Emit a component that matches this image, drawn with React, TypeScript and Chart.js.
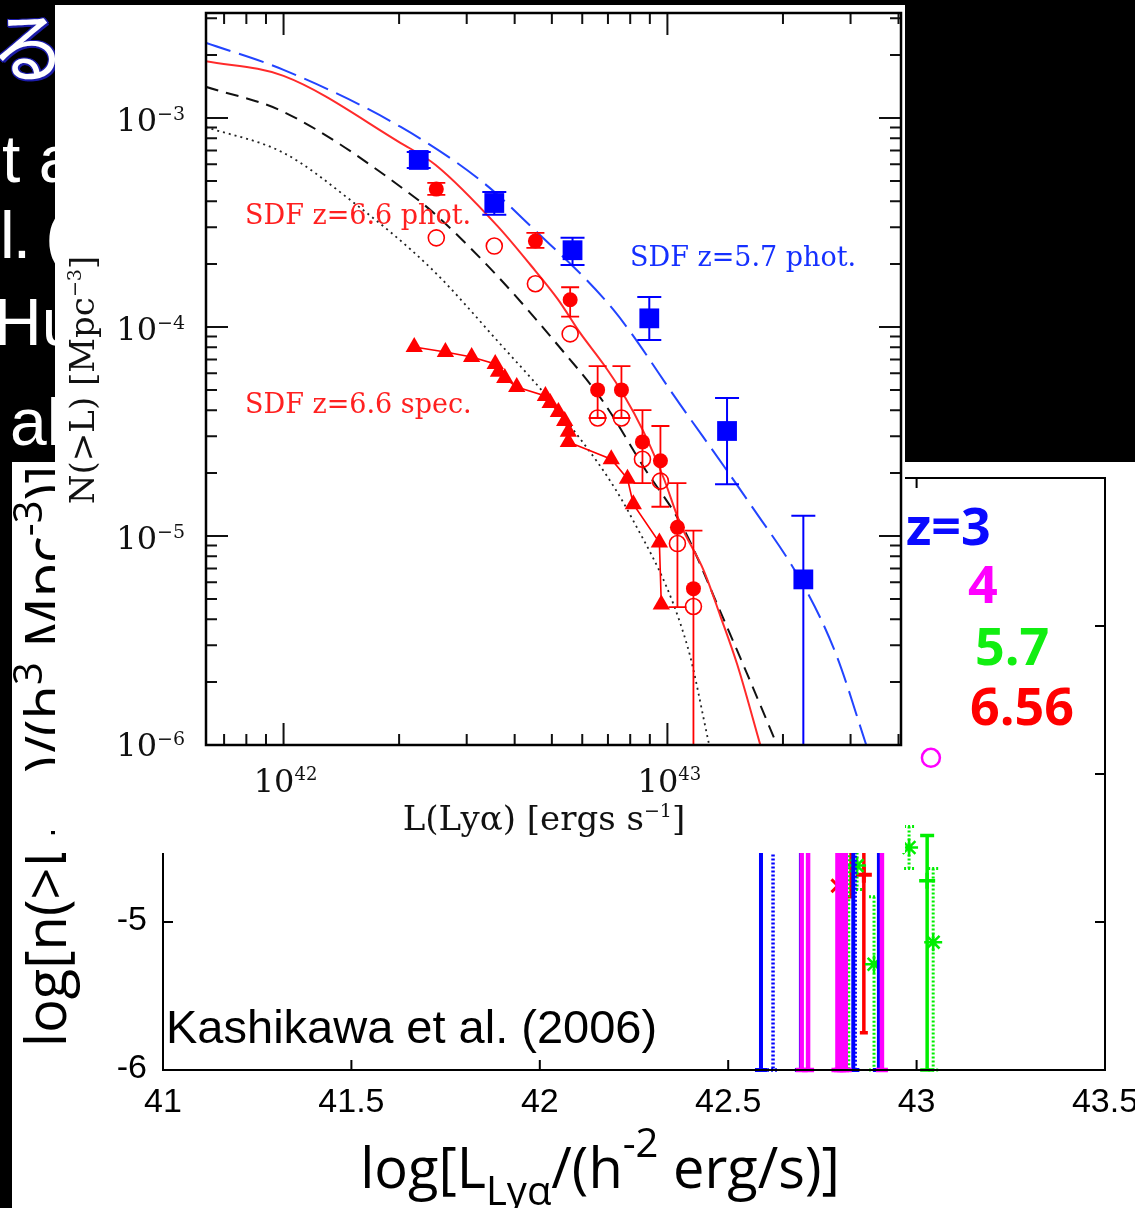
import React, { useEffect, useRef } from 'react';
import { Chart, registerables } from 'chart.js';

Chart.register(...registerables);

// ---------- Inset: SDF cumulative Lyα luminosity functions (log-log) ----------
// z=5.7 photometric sample (filled squares)
const phot57L = [2.25e42, 3.54e42, 5.66e42, 8.97e42, 1.43e43, 2.26e43];
const phot57N = [6.3e-4, 3.92e-4, 2.33e-4, 1.1e-4, 3.18e-5, 6.2e-6];
const phot57Hi = [6.87e-4, 4.43e-4, 2.67e-4, 1.39e-4, 4.57e-5, 1.25e-5];
const phot57Lo = [5.77e-4, 3.44e-4, 1.98e-4, 8.67e-5, 1.77e-5, 0];

// z=6.6 photometric sample: corrected (filled circles) and raw (open circles)
const phot66L = [2.5e42, 3.54e42, 4.53e42, 5.58e42, 6.58e42, 7.59e42, 8.61e42, 9.59e42, 1.062e43, 1.169e43];
const phot66N = [4.57e-4, 4.0e-4, 2.58e-4, 1.35e-4, 5.0e-5, 5.0e-5, 2.82e-5, 2.29e-5, 1.1e-5, 5.6e-6];
const phot66Hi = [4.89e-4, 4.3e-4, 2.82e-4, 1.55e-4, 6.5e-5, 6.5e-5, 4.0e-5, 3.36e-5, 1.79e-5, 1.06e-5];
const phot66Lo = [4.29e-4, 3.85e-4, 2.39e-4, 1.12e-4, 3.67e-5, 3.67e-5, 1.79e-5, 1.38e-5, 4.57e-6, 0];
const phot66RawN = [2.67e-4, 2.44e-4, 1.61e-4, 9.27e-5, 3.67e-5, 3.67e-5, 2.33e-5, 1.83e-5, 9.2e-6, 4.6e-6];

// z=6.6 spectroscopic sample (triangles, joined)
const spec66L = [2.19e42, 2.64e42, 3.09e42, 3.56e42, 3.63e42, 3.77e42, 4.05e42, 4.81e42, 4.95e42, 5.2e42, 5.4e42, 5.52e42, 5.52e42, 7.14e42, 7.87e42, 8.15e42, 9.53e42, 9.64e42];
const spec66N = [8.02e-5, 7.59e-5, 7.18e-5, 6.65e-5, 6.1e-5, 5.7e-5, 5.16e-5, 4.68e-5, 4.33e-5, 3.92e-5, 3.55e-5, 3.15e-5, 2.82e-5, 2.33e-5, 1.88e-5, 1.42e-5, 9.3e-6, 4.7e-6];

// Model curves
const model57L = [6.27e41, 1.0e42, 2.02e42, 3.3e42, 4.4e42, 7.23e42, 1.081e43, 1.614e43, 2.275e43, 2.754e43, 3.296e43];
const model57N = [2.29e-3, 1.7e-3, 9.06e-4, 4.94e-4, 3.04e-4, 1.21e-4, 4.24e-5, 1.49e-5, 5.7e-6, 2.7e-6, 1.0e-6];
const model66L = [6.27e41, 1.0e42, 2.02e42, 2.49e42, 3.61e42, 4.4e42, 5.18e42, 5.93e42, 6.81e42, 7.67e42, 8.67e42, 9.77e42, 1.081e43, 1.242e43, 1.374e43, 1.521e43, 1.746e43];
const model66N = [1.87e-3, 1.59e-3, 7.59e-4, 5.96e-4, 3.04e-4, 1.98e-4, 1.36e-4, 9.35e-5, 6.65e-5, 4.78e-5, 3.15e-5, 1.9e-5, 1.14e-5, 6.87e-6, 4.14e-6, 2.42e-6, 1.0e-6];
const modelDashL = [6.27e41, 1.0e42, 2.19e42, 2.56e42, 3.61e42, 5.18e42, 6.81e42, 8.67e42, 1.1e43, 1.4e43, 1.61e43, 1.93e43];
const modelDashN = [1.41e-3, 1.07e-3, 4.19e-4, 3.29e-4, 1.75e-4, 8.2e-5, 4.38e-5, 2.14e-5, 1.09e-5, 4.01e-6, 2.21e-6, 1.0e-6];
const modelDotL = [6.27e41, 1.0e42, 1.49e42, 2.42e42, 3.61e42, 5.36e42, 8.02e42, 1.127e43, 1.285e43];
const modelDotN = [9.06e-4, 6.81e-4, 4.06e-4, 1.91e-4, 8.57e-5, 3.71e-5, 1.25e-5, 2.98e-6, 1.0e-6];

// Inset axes
const insetXMajor = [1e42, 1e43];
const insetXExp = ['42', '43'];
const insetXDecades = [1e41, 1e42, 1e43];
const insetYMajor = [1e-6, 1e-5, 1e-4, 1e-3];
const insetYExp = ['−6', '−5', '−4', '−3'];
const insetYDecades = [1e-6, 1e-5, 1e-4, 1e-3];
const minorMultipliers = [2, 3, 4, 5, 6, 7, 8, 9];

// ---------- Lower panel: Kashikawa et al. (2006), log units ----------
const lowXTicks = [41, 41.5, 42, 42.5, 43, 43.5];
const lowXLabels = ['41', '41.5', '42', '42.5', '43', '43.5'];
const lowYTicks = [-6, -5, -4, -3, -2];
const lowYLabels = ['-6', '-5', '-4', '-3', '-2'];

const z3L = [42.587, 42.693, 42.832, 42.9];
const z3N = [-3.3, -3.6, -3.9, -4.15];
const z3Hi = [-3.2, -3.5, -3.8, -4.05];
const z3Lo = [-6, -6, -6, -6];
const z3DotL = [42.619, 42.837];
const z3DotN = [-3.4, -3.95];
const z3DotHi = [-3.3, -3.85];
const z3DotLo = [-6, -6];

const z4L = [42.695, 42.712, 42.79, 42.797, 42.805, 42.812, 42.908];
const z4N = [-3.7, -3.8, -3.95, -4.0, -4.05, -4.1, -4.3];
const z4Hi = [-3.6, -3.7, -3.85, -3.9, -3.95, -4.0, -4.2];
const z4Lo = [-6, -6, -6, -6, -6, -6, -6];
const z4OpenL = [43.038];
const z4OpenN = [-3.891];

const z57L = [43.028];
const z57N = [-4.721];
const z57Hi = [-4.415];
const z57Lo = [-6];
const z57StarL = [42.82, 42.842, 42.887, 42.98, 43.044];
const z57StarN = [-4.0, -4.619, -5.286, -4.497, -5.136];
const z57StarHi = [-3.9, -4.45, -4.83, -4.354, -4.639];
const z57StarLo = [-6, -4.78, -6, -4.639, -6];

const z656L = [42.826, 42.86];
const z656N = [-4.3, -4.68];
const z656Hi = [-4.1, -4.2];
const z656Lo = [-4.83, -5.748];
const z656XL = [42.791];
const z656XN = [-4.755];

const redshiftLabels = ['z=3', '4', '5.7', '6.56'];
const redshiftColors = ['#0a0aff', '#ff00ff', '#11ee11', '#ff0000'];

// ---------- helpers ----------
const pts = (xs: number[], ys: number[]) => xs.map((x, i) => ({ x, y: ys[i] }));

type Part = { t: string; font: string; dy?: number };

function drawRich(ctx: CanvasRenderingContext2D, parts: Part[], x: number, y: number, align: 'left' | 'center' | 'right') {
  let w = 0;
  for (const p of parts) {
    ctx.font = p.font;
    w += ctx.measureText(p.t).width;
  }
  let cx = align === 'left' ? x : align === 'center' ? x - w / 2 : x - w;
  ctx.textAlign = 'left';
  ctx.textBaseline = 'alphabetic';
  for (const p of parts) {
    ctx.font = p.font;
    ctx.fillText(p.t, cx, y + (p.dy || 0));
    cx += ctx.measureText(p.t).width;
  }
}

type ErrBars = { hi: number[]; lo: number[]; color: string; width: number; cap: number; dash?: number[]; clip?: boolean };

// Vertical error bars, drawn just before each dataset's own markers
const errorBarPlugin = {
  id: 'errorBars',
  beforeDatasetDraw(chart: any, args: any) {
    const ds = chart.data.datasets[args.index];
    const eb: ErrBars | undefined = ds.errorBars;
    if (!eb) return;
    const { ctx, chartArea: a, scales } = chart;
    const xs = scales.x;
    const ys = scales.y;
    ctx.save();
    if (eb.clip) {
      ctx.beginPath();
      ctx.rect(a.left, a.top, a.right - a.left, a.bottom - a.top);
      ctx.clip();
    }
    ctx.strokeStyle = eb.color;
    ctx.lineWidth = eb.width;
    ctx.setLineDash(eb.dash || []);
    ds.data.forEach((p: any, i: number) => {
      const px = xs.getPixelForValue(p.x);
      const yHi = ys.getPixelForValue(eb.hi[i]);
      const open = eb.lo[i] === 0;
      const yLo = open ? a.bottom + 20 : ys.getPixelForValue(eb.lo[i]);
      ctx.beginPath();
      ctx.moveTo(px, yHi);
      ctx.lineTo(px, yLo);
      ctx.moveTo(px - eb.cap, yHi);
      ctx.lineTo(px + eb.cap, yHi);
      if (!open) {
        ctx.moveTo(px - eb.cap, yLo);
        ctx.lineTo(px + eb.cap, yLo);
      }
      ctx.stroke();
    });
    ctx.restore();
  },
};

const SERIF = '"DejaVu Serif", "Liberation Serif", serif';

// Inset frame: mirrored inward ticks, 10^n labels, titles and sample labels
const insetAxesPlugin = {
  id: 'insetAxes',
  afterDatasetsDraw(chart: any) {
    const { ctx, chartArea: a, scales } = chart;
    const x = scales.x;
    const y = scales.y;
    ctx.save();
    ctx.strokeStyle = '#111';
    ctx.lineWidth = 2;
    ctx.beginPath();
    const xTick = (v: number, len: number) => {
      const px = x.getPixelForValue(v);
      ctx.moveTo(px, a.bottom);
      ctx.lineTo(px, a.bottom - len);
      ctx.moveTo(px, a.top);
      ctx.lineTo(px, a.top + len);
    };
    const yTick = (v: number, len: number) => {
      const py = y.getPixelForValue(v);
      ctx.moveTo(a.left, py);
      ctx.lineTo(a.left + len, py);
      ctx.moveTo(a.right, py);
      ctx.lineTo(a.right - len, py);
    };
    insetXDecades.forEach((d) =>
      minorMultipliers.forEach((m) => {
        const v = d * m;
        if (v > x.min && v < x.max) xTick(v, 11);
      })
    );
    insetXMajor.forEach((v) => xTick(v, 22));
    insetYDecades.forEach((d) =>
      minorMultipliers.forEach((m) => {
        const v = d * m;
        if (v > y.min && v < y.max) yTick(v, 11);
      })
    );
    insetYMajor.forEach((v) => yTick(v, 22));
    ctx.stroke();

    ctx.lineWidth = 2.5;
    ctx.strokeStyle = '#000';
    ctx.strokeRect(a.left, a.top, a.right - a.left, a.bottom - a.top);

    ctx.fillStyle = '#111';
    insetXMajor.forEach((v, i) => {
      drawRich(
        ctx,
        [
          { t: '10', font: `32px ${SERIF}` },
          { t: insetXExp[i], font: `18px ${SERIF}`, dy: -12 },
        ],
        x.getPixelForValue(v) + 2,
        a.bottom + 47,
        'center'
      );
    });
    insetYMajor.forEach((v, i) => {
      drawRich(
        ctx,
        [
          { t: '10', font: `32px ${SERIF}` },
          { t: insetYExp[i], font: `19px ${SERIF}`, dy: -11 },
        ],
        a.left - 21,
        y.getPixelForValue(v) + (i === 0 ? 11 : 13),
        'right'
      );
    });

    // axis titles
    drawRich(
      ctx,
      [
        { t: 'L(Lyα) [ergs s', font: `34px ${SERIF}` },
        { t: '−1', font: `19px ${SERIF}`, dy: -13 },
        { t: ']', font: `34px ${SERIF}` },
      ],
      a.left + 338,
      a.bottom + 85,
      'center'
    );
    ctx.save();
    ctx.translate(39, a.top + 367);
    ctx.rotate(-Math.PI / 2);
    drawRich(
      ctx,
      [
        { t: 'N(>L) [Mpc', font: `34px ${SERIF}` },
        { t: '−3', font: `19px ${SERIF}`, dy: -13 },
        { t: ']', font: `34px ${SERIF}` },
      ],
      0,
      0,
      'center'
    );
    ctx.restore();

    // sample labels
    ctx.font = `27px ${SERIF}`;
    ctx.textAlign = 'left';
    ctx.textBaseline = 'alphabetic';
    ctx.fillStyle = '#ff2020';
    ctx.fillText('SDF z=6.6 phot.', a.left + 39, a.top + 211);
    ctx.fillText('SDF z=6.6 spec.', a.left + 39, a.top + 400);
    ctx.fillStyle = '#1530ff';
    ctx.fillText('SDF z=5.7 phot.', a.left + 424, a.top + 253);
    ctx.restore();
  },
};

const SANS = '"Open Sans", "Noto Sans", "DejaVu Sans", sans-serif';
const ARIAL = '"Liberation Sans", Arial, sans-serif';

// Lower panel frame, ticks, labels, titles and redshift key
const lowerAxesPlugin = {
  id: 'lowerAxes',
  afterDatasetsDraw(chart: any) {
    const { ctx, chartArea: a, scales } = chart;
    const x = scales.x;
    const y = scales.y;
    ctx.save();
    ctx.strokeStyle = '#000';
    ctx.lineWidth = 2;
    ctx.strokeRect(a.left, a.top, a.right - a.left, a.bottom - a.top);
    ctx.beginPath();
    lowXTicks.forEach((v) => {
      const px = x.getPixelForValue(v);
      ctx.moveTo(px, a.bottom);
      ctx.lineTo(px, a.bottom - 10);
      ctx.moveTo(px, a.top);
      ctx.lineTo(px, a.top + 10);
    });
    lowYTicks.forEach((v) => {
      const py = y.getPixelForValue(v);
      ctx.moveTo(a.left, py);
      ctx.lineTo(a.left + 10, py);
      ctx.moveTo(a.right, py);
      ctx.lineTo(a.right - 10, py);
    });
    ctx.stroke();

    ctx.fillStyle = '#000';
    ctx.font = `34px ${ARIAL}`;
    ctx.textAlign = 'center';
    ctx.textBaseline = 'alphabetic';
    lowXTicks.forEach((v, i) => ctx.fillText(lowXLabels[i], x.getPixelForValue(v), a.bottom + 42));
    ctx.textAlign = 'right';
    ctx.textBaseline = 'middle';
    lowYTicks.forEach((v, i) => ctx.fillText(lowYLabels[i], a.left - 16, y.getPixelForValue(v) - 1));

    // x title
    drawRich(
      ctx,
      [
        { t: 'log[L', font: `56px ${SANS}` },
        { t: 'Lyα', font: `40px ${SANS}`, dy: 17 },
        { t: '/(h', font: `56px ${SANS}` },
        { t: '-2', font: `40px ${SANS}`, dy: -31 },
        { t: ' erg/s)]', font: `56px ${SANS}` },
      ],
      588,
      a.bottom + 118,
      'center'
    );
    // y title
    ctx.save();
    ctx.translate(54, a.bottom - 23);
    ctx.rotate(-Math.PI / 2);
    drawRich(
      ctx,
      [
        { t: 'log[n(>L', font: `56px ${SANS}` },
        { t: 'Lyα', font: `40px ${SANS}`, dy: 14 },
        { t: ')/(h', font: `56px ${SANS}` },
        { t: '3', font: `40px ${SANS}`, dy: -24 },
        { t: ' Mpc', font: `56px ${SANS}` },
        { t: '-3', font: `40px ${SANS}`, dy: -24 },
        { t: ')]', font: `56px ${SANS}` },
      ],
      0,
      0,
      'left'
    );
    ctx.restore();

    // reference
    ctx.font = `47px ${ARIAL}`;
    ctx.textAlign = 'left';
    ctx.textBaseline = 'alphabetic';
    ctx.fillStyle = '#000';
    ctx.fillText('Kashikawa et al. (2006)', a.left + 3, a.bottom - 27);

    // redshift key
    ctx.font = `bold 52px ${SANS}`;
    const keyX = [a.right - 199, a.right - 137, a.right - 130, a.right - 135];
    const keyY = [a.top + 67, a.top + 125, a.top + 187, a.top + 247];
    redshiftLabels.forEach((s, i) => {
      ctx.fillStyle = redshiftColors[i];
      ctx.fillText(s, keyX[i], keyY[i]);
    });
    ctx.restore();
  },
};

function insetConfig(): any {
  const blue = '#0000ff';
  const red = '#ff0000';
  const curve = { showLine: true, pointRadius: 0, cubicInterpolationMode: 'monotone' };
  return {
    type: 'scatter',
    data: {
      datasets: [
        {
          data: pts(phot57L, phot57N),
          pointStyle: 'rect',
          pointRadius: 14,
          pointBackgroundColor: blue,
          pointBorderWidth: 0,
          errorBars: { hi: phot57Hi, lo: phot57Lo, color: blue, width: 2, cap: 12, clip: true },
        },
        {
          data: pts(phot66L, phot66N),
          pointStyle: 'circle',
          pointRadius: 7.5,
          pointBackgroundColor: red,
          pointBorderWidth: 0,
          errorBars: { hi: phot66Hi, lo: phot66Lo, color: red, width: 1.8, cap: 9, clip: true },
        },
        {
          data: pts(phot66L, phot66RawN),
          pointStyle: 'circle',
          pointRadius: 8,
          pointBackgroundColor: 'rgba(0,0,0,0)',
          pointBorderColor: red,
          pointBorderWidth: 1.6,
        },
        {
          data: pts(spec66L, spec66N),
          showLine: true,
          borderColor: red,
          borderWidth: 1.6,
          pointStyle: 'triangle',
          pointRadius: 10,
          pointBackgroundColor: red,
          pointBorderWidth: 0,
        },
        {
          ...curve,
          data: pts(model57L, model57N),
          borderColor: '#2244ff',
          borderWidth: 2,
          borderDash: [26, 9],
        },
        {
          ...curve,
          data: pts(model66L, model66N),
          borderColor: '#ff2a2a',
          borderWidth: 2,
        },
        {
          ...curve,
          data: pts(modelDashL, modelDashN),
          borderColor: '#111',
          borderWidth: 2,
          borderDash: [13, 8],
        },
        {
          ...curve,
          data: pts(modelDotL, modelDotN),
          borderColor: '#222',
          borderWidth: 1.8,
          borderDash: [2, 4],
        },
      ],
    },
    options: {
      animation: false,
      responsive: false,
      maintainAspectRatio: false,
      events: [],
      layout: { autoPadding: false, padding: { left: 151, right: 4, top: 8, bottom: 108 } },
      scales: {
        x: { type: 'logarithmic', min: 6.28e41, max: 4.06e43, display: false },
        y: { type: 'logarithmic', min: 1e-6, max: 3.18e-3, display: false },
      },
      plugins: { legend: { display: false }, tooltip: { enabled: false } },
    },
    plugins: [errorBarPlugin, insetAxesPlugin],
  };
}

function lowerConfig(): any {
  const blue = '#0000ff';
  const magenta = '#ff00ff';
  const green = '#00ee00';
  const red = '#ff0000';
  return {
    type: 'scatter',
    data: {
      datasets: [
        {
          data: pts(z4OpenL, z4OpenN),
          pointStyle: 'circle',
          pointRadius: 9,
          pointBackgroundColor: 'rgba(0,0,0,0)',
          pointBorderColor: magenta,
          pointBorderWidth: 2.5,
        },
        {
          data: pts(z4L, z4N),
          pointRadius: 5,
          pointBackgroundColor: magenta,
          pointBorderWidth: 0,
          errorBars: { hi: z4Hi, lo: z4Lo, color: magenta, width: 4.5, cap: 6 },
        },
        {
          data: pts(z3L, z3N),
          pointRadius: 5,
          pointBackgroundColor: blue,
          pointBorderWidth: 0,
          errorBars: { hi: z3Hi, lo: z3Lo, color: blue, width: 4, cap: 6 },
        },
        {
          data: pts(z3DotL, z3DotN),
          pointRadius: 5,
          pointBackgroundColor: blue,
          pointBorderWidth: 0,
          errorBars: { hi: z3DotHi, lo: z3DotLo, color: blue, width: 3.5, cap: 6, dash: [2, 2] },
        },
        {
          data: pts(z57L, z57N),
          pointStyle: 'cross',
          pointRadius: 8,
          pointBorderColor: green,
          pointBorderWidth: 3.5,
          errorBars: { hi: z57Hi, lo: z57Lo, color: green, width: 3.5, cap: 7 },
        },
        {
          data: pts(z57StarL, z57StarN),
          pointStyle: 'star',
          pointRadius: 9,
          pointBorderColor: green,
          pointBorderWidth: 2.5,
          errorBars: { hi: z57StarHi, lo: z57StarLo, color: green, width: 3, cap: 5, dash: [2, 2] },
        },
        {
          data: pts(z656L, z656N),
          pointStyle: 'cross',
          pointRadius: 8,
          pointBorderColor: red,
          pointBorderWidth: 4,
          errorBars: { hi: z656Hi, lo: z656Lo, color: red, width: 3.5, cap: 4 },
        },
        {
          data: pts(z656XL, z656XN),
          pointStyle: 'crossRot',
          pointRadius: 9,
          pointBorderColor: red,
          pointBorderWidth: 3,
        },
      ],
    },
    options: {
      animation: false,
      responsive: false,
      maintainAspectRatio: false,
      events: [],
      layout: { autoPadding: false, padding: { left: 151, right: 30, top: 16, bottom: 138 } },
      scales: {
        x: { type: 'linear', min: 41, max: 43.5, display: false },
        y: { type: 'linear', min: -6, max: -2, display: false },
      },
      plugins: { legend: { display: false }, tooltip: { enabled: false } },
    },
    plugins: [errorBarPlugin, lowerAxesPlugin],
  };
}

function ChartCanvas({ make, width, height }: { make: () => any; width: number; height: number }) {
  const ref = useRef<HTMLCanvasElement>(null);
  useEffect(() => {
    const chart = new Chart(ref.current as HTMLCanvasElement, make());
    return () => chart.destroy();
  }, []);
  return <canvas ref={ref} width={width} height={height} style={{ display: 'block', width, height }} />;
}

const slideLine: React.CSSProperties = {
  position: 'absolute',
  color: '#fff',
  fontFamily: '"Liberation Sans", Arial, sans-serif',
  fontSize: 66,
  lineHeight: 1,
  whiteSpace: 'pre',
};

export default function App() {
  return (
    <div
      style={{
        position: 'absolute',
        left: 0,
        top: 0,
        width: 1135,
        height: 1208,
        background: '#000',
        overflow: 'hidden',
      }}
    >
      <div
        style={{
          ...slideLine,
          left: -10,
          top: 5,
          fontSize: 76,
          fontFamily: '"Noto Sans CJK JP", sans-serif',
          textShadow:
            '2px 2px 0 #1c1ca8, -1px -1px 0 #1c1ca8, 1px -1px 0 #1c1ca8, -1px 1px 0 #1c1ca8, 2px 0 0 #1c1ca8, 0 2px 0 #1c1ca8',
        }}
      >
        る
      </div>
      <div style={{ ...slideLine, left: -31, top: 126 }}>st a</div>
      <div style={{ ...slideLine, left: 0, top: 202, letterSpacing: -2 }}>l. (</div>
      <div style={{ ...slideLine, left: -6, top: 289 }}>Hu</div>
      <div style={{ ...slideLine, left: 10, top: 389 }}>al</div>

      <div style={{ position: 'absolute', left: 12, top: 462, width: 1123, height: 746, background: '#fff' }}>
        <ChartCanvas make={lowerConfig} width={1123} height={746} />
      </div>

      <div style={{ position: 'absolute', left: 55, top: 5, width: 850, height: 848, background: '#fff' }}>
        <ChartCanvas make={insetConfig} width={850} height={848} />
      </div>
    </div>
  );
}
